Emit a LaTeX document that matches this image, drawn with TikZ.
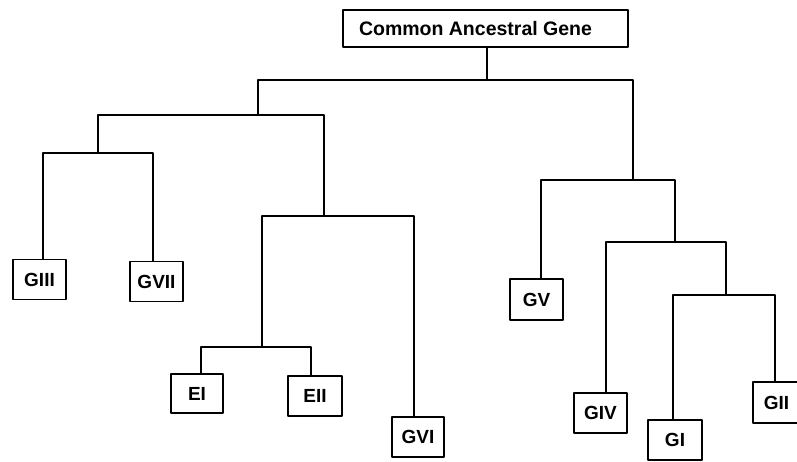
\documentclass[tikz,border=0pt]{standalone}
\usepackage{fontspec}
\setmainfont{Liberation Sans}
\begin{document}
\begin{tikzpicture}[x=1pt,y=-1pt,
  line width=1.9pt, line cap=round, line join=round,
  gbox/.style={draw, line width=1.9pt, inner sep=0pt, minimum width=53pt, minimum height=40pt,
    font=\fontsize{19}{21}\selectfont\bfseries},
  rootbox/.style={draw, line width=1.9pt, inner sep=0pt, minimum width=285pt, minimum height=37pt,
    font=\fontsize{19.5}{21}\selectfont\bfseries}]
\useasboundingbox (0,0) rectangle (797,461);
\clip (0,0) rectangle (797,461);
% nodes
\node[rootbox] (root) at (485.5,28.5) {\hspace*{-20pt}Common Ancestral Gene};
\node[gbox] (g3) at (39.5,279.5) {GIII};
\node[gbox] (g7) at (156.5,281.5) {GVII};
\node[gbox, minimum width=52pt, minimum height=39pt] (e1) at (197,393.5) {EI};
\node[gbox, minimum width=54pt] (e2) at (315,396) {EII};
\node[gbox, minimum width=52pt] (g6) at (418,437) {GVI};
\node[gbox, minimum height=41pt] (g5) at (536.5,299.5) {GV};
\node[gbox] (g4) at (600.5,413) {GIV};
\node[gbox, minimum width=54pt] (g1) at (675,440) {GI};
\node[gbox, minimum height=41pt] (g2) at (779.5,402.5) {\hspace*{-6pt}GII};
% junctions
\coordinate (n1) at (487,80);
\coordinate (jl) at (258,115);
\coordinate (jll) at (98,153);
\coordinate (jlr) at (324,216);
\coordinate (je) at (262,347);
\coordinate (jr) at (633,180);
\coordinate (jr2) at (675,242);
\coordinate (jr3) at (726,295);
% connectors
\draw (n1 |- root.south) -- (n1);
\draw (jl) |- (n1) -| (jr);
\draw (jll) |- (jl) -| (jlr);
\draw ([xshift=3.5pt]g3.north) |- (jll) -| ([xshift=-3.5pt]g7.north);
\draw (je) |- (jlr) -| ([xshift=-4pt]g6.north);
\draw ([xshift=4pt]e1.north) |- (je) -| ([xshift=-4pt]e2.north);
\draw ([xshift=4.5pt]g5.north) |- (jr) -| (jr2);
\draw ([xshift=5.5pt]g4.north) |- (jr2) -| (jr3);
\draw ([xshift=-2pt]g1.north) |- (jr3) -| ([xshift=-4.5pt]g2.north);
\end{tikzpicture}
\end{document}
